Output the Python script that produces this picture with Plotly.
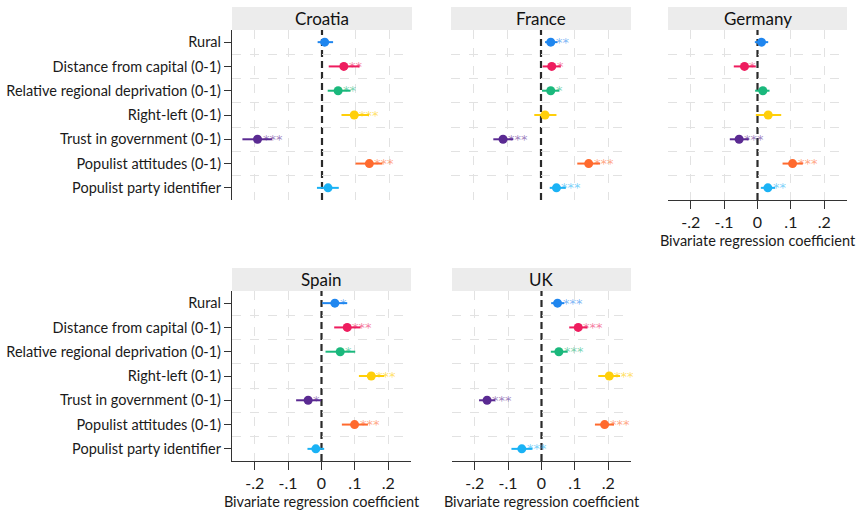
import plotly.graph_objects as go

W, H = 861, 514

categories = ["Rural", "Distance from capital (0-1)", "Relative regional deprivation (0-1)",
              "Right-left (0-1)", "Trust in government (0-1)", "Populist attitudes (0-1)",
              "Populist party identifier"]
colors = ["#1f86ef", "#ee1c5e", "#1ab87c", "#ffcf0a", "#5a2a92", "#ff6a2e", "#1ab2f5"]
star_colors = ["rgba(31,134,239,0.6)", "rgba(238,28,94,0.6)", "rgba(26,184,124,0.6)",
               "rgba(255,207,10,0.65)", "rgba(90,42,146,0.6)", "rgba(255,106,46,0.6)",
               "rgba(26,178,245,0.6)"]

countries = ["Croatia", "France", "Germany", "Spain", "UK"]

croatia_coef = [0.008, 0.065, 0.048, 0.096, -0.192, 0.141, 0.018]
croatia_lo = [-0.013, 0.020, 0.017, 0.058, -0.237, 0.100, -0.015]
croatia_hi = [0.033, 0.112, 0.085, 0.140, -0.149, 0.180, 0.050]
croatia_stars = ["", "**", "**", "***", "***", "***", ""]

france_coef = [0.029, 0.032, 0.029, 0.012, -0.113, 0.142, 0.046]
france_lo = [0.012, 0.005, 0.003, -0.020, -0.142, 0.108, 0.026]
france_hi = [0.049, 0.059, 0.054, 0.046, -0.083, 0.176, 0.074]
france_stars = ["**", "*", "*", "", "***", "***", "***"]

germany_coef = [0.012, -0.039, 0.016, 0.032, -0.055, 0.105, 0.031]
germany_lo = [-0.008, -0.071, -0.007, -0.005, -0.083, 0.075, 0.010]
germany_hi = [0.032, -0.005, 0.036, 0.071, -0.026, 0.136, 0.053]
germany_stars = ["", "*", "", "", "***", "***", "**"]

spain_coef = [0.040, 0.077, 0.056, 0.149, -0.040, 0.099, -0.017]
spain_lo = [0.002, 0.038, 0.012, 0.112, -0.076, 0.061, -0.042]
spain_hi = [0.077, 0.117, 0.101, 0.188, -0.001, 0.139, 0.008]
spain_stars = ["*", "***", "*", "***", "*", "***", ""]

uk_coef = [0.048, 0.110, 0.052, 0.203, -0.163, 0.189, -0.059]
uk_lo = [0.029, 0.083, 0.028, 0.170, -0.187, 0.160, -0.090]
uk_hi = [0.068, 0.138, 0.078, 0.235, -0.139, 0.217, -0.027]
uk_stars = ["***", "***", "***", "***", "***", "***", "***"]

x_tickvals = [-0.2, -0.1, 0, 0.1, 0.2]
x_gridvals = [-0.2, -0.1, 0.1, 0.2]
x_ticktext = ["-.2", "-.1", "0", ".1", ".2"]
x_title = "Bivariate regression coefficient"

data = {
    "Croatia": (croatia_coef, croatia_lo, croatia_hi, croatia_stars),
    "France": (france_coef, france_lo, france_hi, france_stars),
    "Germany": (germany_coef, germany_lo, germany_hi, germany_stars),
    "Spain": (spain_coef, spain_lo, spain_hi, spain_stars),
    "UK": (uk_coef, uk_lo, uk_hi, uk_stars),
}

# panel pixel geometry: (x0, x1, plot_top, plot_bottom, strip_top, show_y, show_x)
panels = {
    "Croatia": (232, 412, 30, 200, 7, True, False),
    "France": (451, 631, 30, 200, 7, False, False),
    "Germany": (668, 847, 30, 200, 7, False, True),
    "Spain": (232, 411, 291, 461, 268, True, True),
    "UK": (452, 631, 291, 461, 268, False, True),
}

FONT = "Lato, 'DejaVu Sans', sans-serif"
STAR_FONT = "'DejaVu Sans', sans-serif"
fig = go.Figure()
layout = dict(width=W, height=H, margin=dict(l=0, r=0, t=0, b=0),
              paper_bgcolor="white", plot_bgcolor="white", showlegend=False,
              font=dict(family=FONT, color="#1a1a1a"))
shapes = []
annotations = []
ypos = list(range(1, len(categories) + 1))
grid_col = "#e2e2e2"

for i, c in enumerate(countries):
    n = "" if i == 0 else str(i + 1)
    xa, ya = "x" + n, "y" + n
    coef, lo, hi, stars = data[c]
    x0, x1, pt, pb, st, show_y, show_x = panels[c]
    shapes.append(dict(type="line", xref=xa, yref=ya + " domain", x0=0, x1=0, y0=0, y1=1,
                       line=dict(color="#2a2a2a", width=2.2, dash="7px,4px"), layer="below"))
    for k in range(len(categories)):
        fig.add_trace(go.Scatter(
            x=[coef[k]], y=[ypos[k]], xaxis=xa, yaxis=ya, mode="markers",
            marker=dict(color=colors[k], size=9),
            error_x=dict(type="data", symmetric=False, array=[hi[k] - coef[k]],
                         arrayminus=[coef[k] - lo[k]], color=colors[k], thickness=2, width=0),
            hoverinfo="skip", cliponaxis=False))
        if stars[k]:
            annotations.append(dict(text=stars[k], xref=xa, yref=ya, x=coef[k], y=ypos[k],
                                    xanchor="left", yanchor="middle", xshift=3, yshift=0,
                                    showarrow=False,
                                    font=dict(color=star_colors[k], size=13, family=STAR_FONT)))
    xd = [x0 / W, x1 / W]
    yd = [(H - pb) / H, (H - pt) / H]
    layout["xaxis" + n] = dict(
        domain=xd, anchor=ya, range=[-0.268, 0.268], tickmode="array",
        tickvals=x_tickvals, ticktext=x_ticktext,
        showticklabels=show_x, showgrid=False, zeroline=False,
        showline=show_x, linecolor="#333", linewidth=1.2,
        ticks="outside" if show_x else "", ticklen=8, tickcolor="#333",
        tickfont=dict(size=16, family=FONT),
        minor=dict(tickmode="array", tickvals=x_gridvals, showgrid=True,
                   gridcolor=grid_col, griddash="dash", gridwidth=1, ticks=""),
        title=dict(text=x_title if show_x else "", font=dict(size=14.5, family=FONT), standoff=5),
        fixedrange=True)
    layout["yaxis" + n] = dict(
        domain=yd, anchor=xa, range=[7.5, 0.5], tickmode="array", tickvals=ypos,
        ticktext=categories, showticklabels=show_y, showgrid=False, zeroline=False,
        showline=show_y, linecolor="#333", linewidth=1.2,
        ticks="outside" if show_y else "", ticklen=7, tickcolor="#333",
        tickfont=dict(size=14.5, family=FONT),
        minor=dict(tickmode="array", tickvals=[1.5, 2.5, 3.5, 4.5, 5.5, 6.5], showgrid=True,
                   gridcolor=grid_col, griddash="dash", gridwidth=1, ticks=""),
        fixedrange=True)
    shapes.append(dict(type="rect", xref="paper", yref="paper", x0=x0 / W, x1=x1 / W,
                       y0=(H - pt) / H, y1=(H - st) / H, fillcolor="#ececec",
                       line=dict(width=0), layer="below"))
    annotations.append(dict(text=c, xref="paper", yref="paper", x=(x0 + x1) / 2 / W,
                            y=(H - (pt + st) / 2) / H, showarrow=False,
                            font=dict(size=17, family=FONT, color="#111"),
                            xanchor="center", yanchor="middle"))

layout["shapes"] = shapes
layout["annotations"] = annotations
fig.update_layout(**layout)
fig.write_html("out.html")
